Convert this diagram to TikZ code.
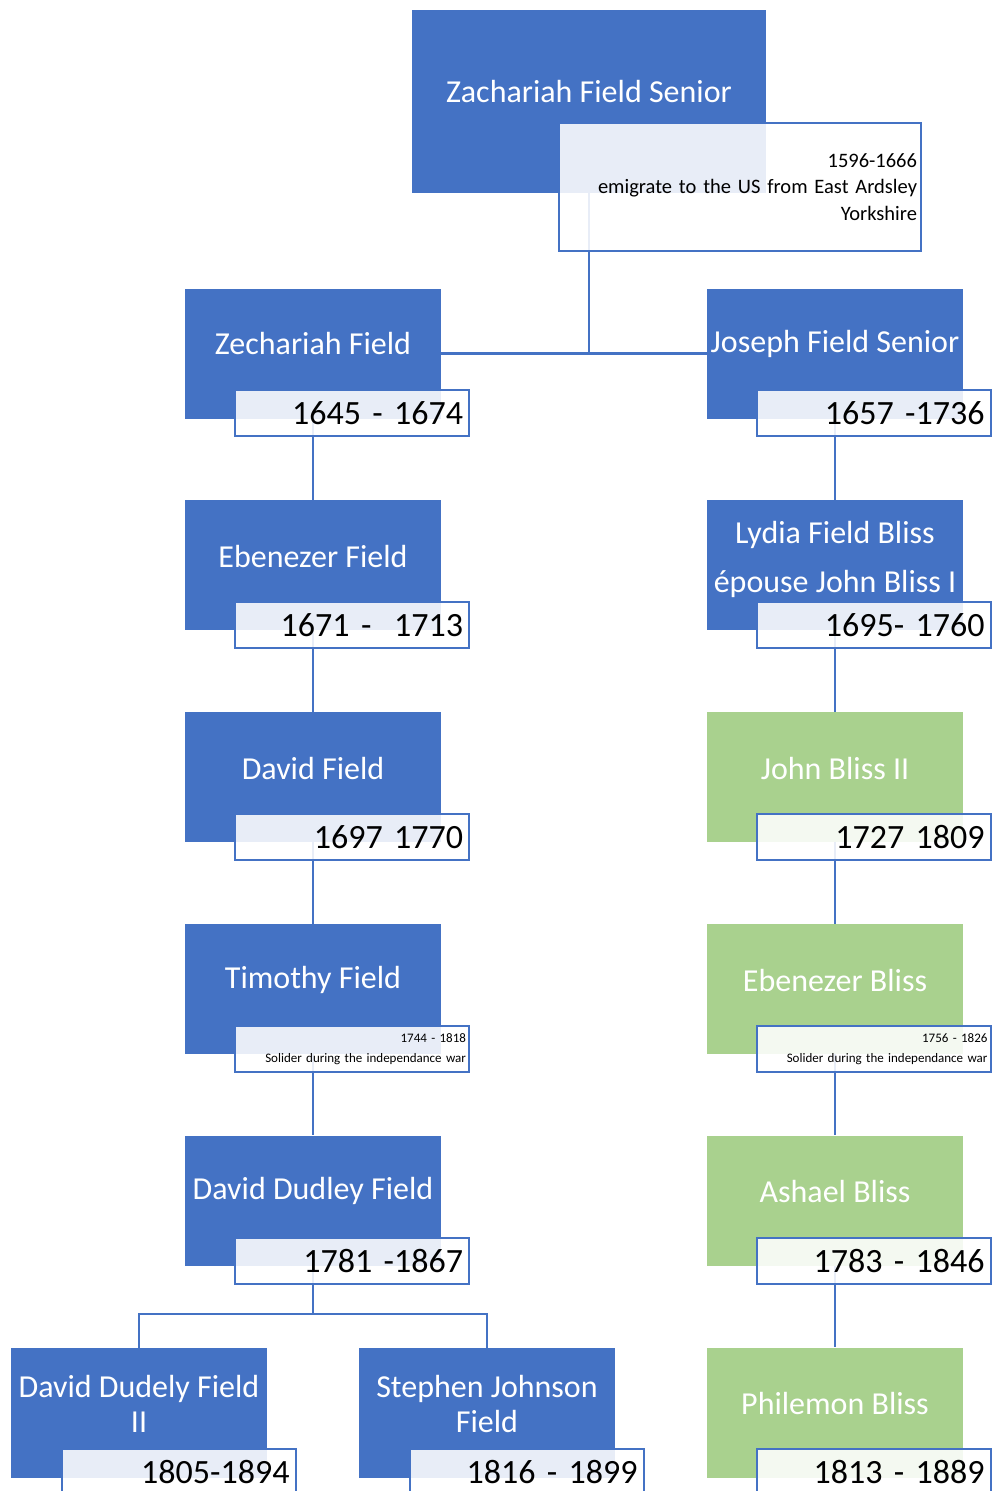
\documentclass[tikz,border=0pt]{standalone}
\usepackage{fontspec}
\setmainfont{Carlito}
\definecolor{fblue}{HTML}{4472C4}
\definecolor{fgreen}{HTML}{A9D18E}
\pgfdeclarelayer{bg}
\pgfsetlayers{bg,main}
\tikzset{
 box/.style={rectangle, minimum width=256pt, minimum height=130pt, inner sep=0pt, draw=none},
 bluebox/.style={box, fill=fblue},
 greenbox/.style={box, fill=fgreen},
 nametext/.style={text=white, font=\fontsize{32}{35}\selectfont, align=center, inner sep=0pt},
 datebox/.style={rectangle, draw=fblue, line width=2pt, fill=white, fill opacity=0.88, text opacity=1,
   minimum width=234pt, minimum height=46pt, text width=222pt, align=right, inner sep=0pt,
   font=\fontsize{34}{40}\selectfont},
 smalldate/.style={datebox, text width=228pt, font=\fontsize{13}{20}\selectfont},
 conn/.style={draw=fblue, line width=2.5pt},
}
\begin{document}
\begin{tikzpicture}[x=1pt,y=-1pt]
\useasboundingbox (0,0) rectangle (993,1491);
\clip (0,0) rectangle (993,1491);
% top
\node[bluebox, minimum width=354pt, minimum height=183pt] (zfs) at (589,101.5) {};
\node[nametext] (zfs-t) at (589,92) {Zachariah Field Senior};
% left column
\node[bluebox] (zf) at (313,353.5) {};
\node[nametext] (zf-t) at (313,344) {Zechariah Field};
\node[bluebox] (ef) at (313,565) {};
\node[nametext] (ef-t) at (313,556) {Ebenezer Field};
\node[bluebox] (df) at (313,777) {};
\node[nametext] (df-t) at (313,768) {David Field};
\node[bluebox] (tf) at (313,989) {};
\node[nametext] (tf-t) at (313,980) {Timothy Field};
\node[bluebox] (ddf) at (313,1200.5) {};
\node[nametext] (ddf-t) at (313,1191) {David Dudley Field};
% right column
\node[bluebox] (jfs) at (835,353.5) {};
\node[nametext] (jfs-t) at (835,344) {Joseph Field Senior};
\node[bluebox] (lfb) at (835,565) {};
\node[nametext, font=\fontsize{32}{49}\selectfont] (lfb-t) at (835,559) {Lydia Field Bliss\\épouse John Bliss I};
\node[greenbox] (jb) at (835,777) {};
\node[nametext] (jb-t) at (835,768) {John Bliss II};
\node[greenbox] (eb) at (835,989) {};
\node[nametext] (eb-t) at (835,980) {Ebenezer Bliss};
\node[greenbox] (ab) at (835,1200.5) {};
\node[nametext] (ab-t) at (835,1191) {Ashael Bliss};
\node[greenbox] (pb) at (835,1412.5) {};
\node[nametext] (pb-t) at (835,1403) {Philemon Bliss};
% bottom row
\node[bluebox] (ddf2) at (139,1412.5) {};
\node[nametext] (ddf2-t) at (139,1403.5) {David Dudely Field\\II};
\node[bluebox] (sjf) at (487,1412.5) {};
\node[nametext] (sjf-t) at (487,1403.5) {Stephen Johnson\\Field};
% connectors
\coordinate (split) at (313,1314);
\begin{pgfonlayer}{bg}
\draw[conn] (zf.east) -- (jfs.west);
\draw[conn] (zfs.south) -- (zfs.south |- zf.east);
\draw[conn] (zf.south) -- (ef.north);
\draw[conn] (ef.south) -- (df.north);
\draw[conn] (df.south) -- (tf.north);
\draw[conn] (tf.south) -- (ddf.north);
\draw[conn] (ddf.south) -- (split);
\draw[conn] ([yshift=-4pt]ddf2.north) |- (split) -| ([yshift=-4pt]sjf.north);
\draw[conn] (jfs.south) -- (lfb.north);
\draw[conn] (lfb.south) -- (jb.north);
\draw[conn] (jb.south) -- (eb.north);
\draw[conn] (eb.south) -- (ab.north);
\draw[conn] (ab.south) -- (pb.north);
\end{pgfonlayer}
% date labels
\node[datebox, minimum width=362pt, minimum height=128pt, text width=354pt, font=\fontsize{20.5}{26.5}\selectfont] (zfs-d) at (740,187) {1596-1666\\emigrate to the US from East Ardsley\\Yorkshire};
\node[datebox] (zf-d) at (352,413) {1645 - 1674};
\node[datebox] (ef-d) at (352,625) {1671 -\ \ 1713};
\node[datebox] (df-d) at (352,837) {1697 1770};
\node[smalldate] (tf-d) at (352,1049) {1744 - 1818\\Solider during the independance war};
\node[datebox] (ddf-d) at (352,1261) {1781 -1867};
\node[datebox] (jfs-d) at (873.5,413) {1657 -1736};
\node[datebox] (lfb-d) at (873.5,625) {1695- 1760};
\node[datebox] (jb-d) at (873.5,837) {1727 1809};
\node[smalldate] (eb-d) at (873.5,1049) {1756 - 1826\\Solider during the independance war};
\node[datebox] (ab-d) at (873.5,1261) {1783 - 1846};
\node[datebox] (pb-d) at (873.5,1472) {1813 - 1889};
\node[datebox] (ddf2-d) at (178.5,1472) {1805-1894};
\node[datebox] (sjf-d) at (526.5,1472) {1816 - 1899};
\end{tikzpicture}
\end{document}
